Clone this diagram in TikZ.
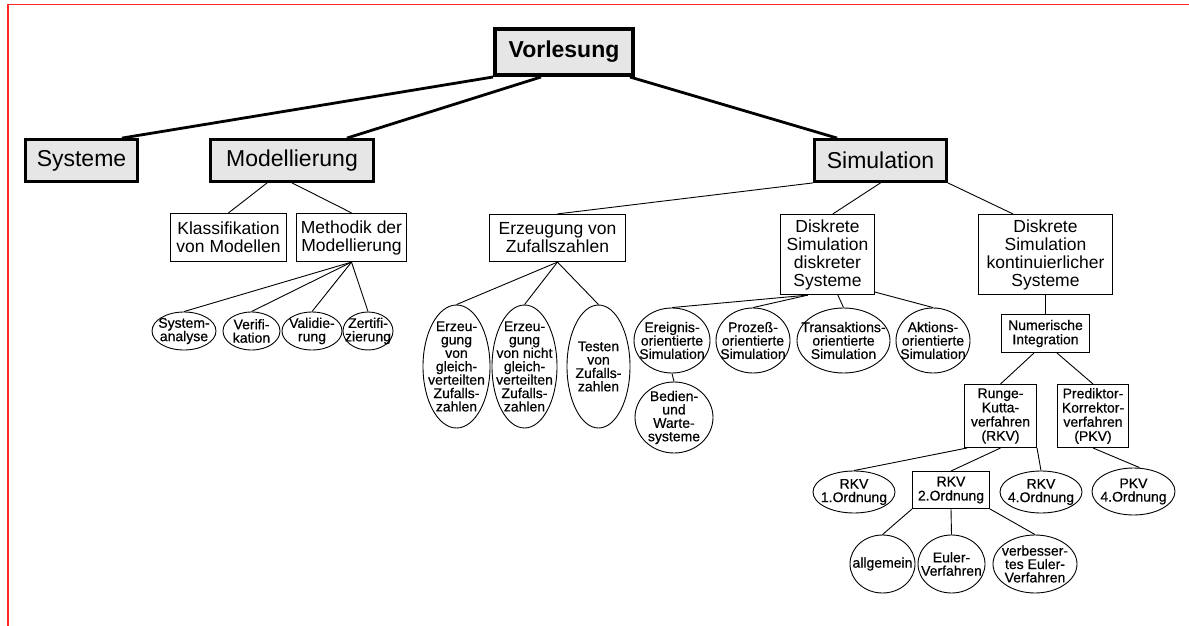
\documentclass[tikz,border=0pt]{standalone}
\usepackage{fontspec}
\setmainfont{Liberation Sans}
\newfontfamily\smallfont[FakeBold=0.5]{Liberation Sans}
\usetikzlibrary{shapes.geometric}

\definecolor{boxgray}{RGB}{230,230,230}
\definecolor{frame}{RGB}{255,40,40}

% ellipse of fixed size with its text set separately on top
\newcommand\leafnode[6]{%
  \node[leaf, minimum width=#4, minimum height=#5] (#1) at (#2,#3) {};
  \node[leaftext] (#1t) at (#1.center) {#6};}

\begin{document}
\begin{tikzpicture}[x=1pt,y=-1pt,
  rootbox/.style={draw, line width=4pt, fill=boxgray, inner sep=0pt,
    minimum width=138pt, minimum height=46pt,
    font=\fontsize{23}{25}\selectfont\bfseries},
  headbox/.style={draw, line width=2.8pt, fill=boxgray, inner sep=0pt,
    minimum height=42pt, font=\fontsize{23}{25}\selectfont},
  midbox/.style={draw, line width=1.2pt, inner sep=0pt, align=center,
    font=\fontsize{17.5}{18}\selectfont},
  smallbox/.style={draw, line width=1pt, inner sep=0pt, align=center,
    font=\smallfont\fontsize{14}{14.2}\selectfont},
  leaf/.style={draw, ellipse, line width=0.9pt, inner sep=0pt},
  leaftext/.style={inner sep=0pt, align=center,
    font=\smallfont\fontsize{14}{13.4}\selectfont},
  thick link/.style={line width=2.8pt},
  thin link/.style={line width=0.9pt}]

\useasboundingbox (0,0) rectangle (1189,626);
\fill[white] (0,0) rectangle (1189,626);

% page frame
\coordinate (frameTR) at (1189,4.5);
\coordinate (frameTL) at (8,4.5);
\coordinate (frameBL) at (8,626);
\draw[frame, line width=1.5pt] (frameTR) -- (frameTL) -- (frameBL);

% top levels
\node[rootbox] (V) at (564,52) {Vorlesung};
\node[headbox, minimum width=112pt] (S) at (81.5,160.5) {Systeme};
\node[headbox, minimum width=163pt] (M) at (292,160.5) {Modellierung};
\node[headbox, minimum width=132pt] (Sim) at (880.5,160.5) {Simulation};

\draw[thick link] (V.south west) -- ([xshift=-17pt]S.north east);
\draw[thick link] ([xshift=48pt]V.south west) -- ([xshift=-28pt]M.north east);
\draw[thick link] ([xshift=-5pt]V.south east) -- ([xshift=24pt]Sim.north west);

% Modellierung
\node[midbox, minimum width=116pt, minimum height=48pt] (K) at (228.5,237.5)
  {Klassifikation\\von Modellen};
\node[midbox, minimum width=110pt, minimum height=48pt] (Me) at (351.5,237.5)
  {Methodik der\\Modellierung};
\draw[thin link] ([xshift=58pt]M.south west) -- (K.north);
\draw[thin link] (M.south) -- (Me.north);

\leafnode{Sa}{184}{331}{64}{38}{System-\\analyse}
\leafnode{Ve}{251.5}{331}{57}{38}{Verifi-\\kation}
\leafnode{Va}{312}{331}{60}{38}{Validie-\\rung}
\leafnode{Ze}{368}{331}{50}{38}{Zertifi-\\zierung}
\foreach \c in {Sa,Ve,Va,Ze}
  \draw[thin link] (Me.south) -- (\c.north);

% Simulation
\node[midbox, minimum width=136pt, minimum height=47pt] (E) at (557.5,238)
  {Erzeugung von\\Zufallszahlen};
\node[midbox, minimum width=94pt, minimum height=80pt] (D) at (827.5,254.5)
  {Diskrete\\Simulation\\diskreter\\Systeme};
\node[midbox, minimum width=134pt, minimum height=80pt] (DK) at (1045.5,254.5)
  {Diskrete\\Simulation\\kontinuierlicher\\Systeme};
\draw[thin link] (Sim.south west) -- (E.north);
\draw[thin link] (Sim.south) -- ([xshift=53pt]D.north west);
\draw[thin link] (Sim.south east) -- ([xshift=35pt]DK.north west);

% random numbers
\leafnode{Eg}{456.5}{366.5}{67}{123}{Erzeu-\\gung\\von\\gleich-\\verteilten\\Zufalls-\\zahlen}
\leafnode{Eng}{524.5}{366.5}{65}{123}{Erzeu-\\gung\\von nicht\\gleich-\\verteilten\\Zufalls-\\zahlen}
\leafnode{Te}{598.5}{366.5}{63}{123}{Testen\\von\\Zufalls-\\zahlen}
\foreach \c in {Eg,Eng,Te}
  \draw[thin link] (E.south) -- (\c.north);

% discrete simulation
\leafnode{Er}{672}{340.5}{76}{65}{Ereignis-\\orientierte\\Simulation}
\leafnode{Pr}{753}{340.5}{74}{65}{Prozeß-\\orientierte\\Simulation}
\leafnode{Tr}{843.5}{340.5}{93}{65}{Transaktions-\\orientierte\\Simulation}
\leafnode{Ak}{933}{340.5}{74}{65}{Aktions-\\orientierte\\Simulation}
\leafnode{Bw}{674}{417.5}{78}{71}{Bedien-\\und\\Warte-\\systeme}
\draw[thin link] ([xshift=28pt]D.south west) -- (Er.north);
\draw[thin link] ([xshift=28pt]D.south west) -- (Pr.north);
\draw[thin link] ([xshift=58pt]D.south west) -- (Tr.north);
\draw[thin link] ([yshift=3pt]D.south east) -- (Ak.north);
\draw[thin link] (Er.south) -- (Bw.north);

% continuous simulation
\node[smallbox, minimum width=88pt, minimum height=38pt] (NI) at (1045.5,333.5)
  {Numerische\\Integration};
\node[smallbox, minimum width=72pt, minimum height=63pt] (RK) at (1000.5,416)
  {Runge-\\Kutta-\\verfahren\\(RKV)};
\node[smallbox, minimum width=71pt, minimum height=63pt] (PK) at (1093,416)
  {Prediktor-\\Korrektor-\\verfahren\\(PKV)};
\draw[thin link] (DK.south) -- (NI.north);
\draw[thin link] ([xshift=33pt]NI.south west) -- (RK.north);
\draw[thin link] ([xshift=56pt]NI.south west) -- (PK.north);

\leafnode{R1}{854}{492}{82}{42}{RKV\\1.Ordnung}
\node[smallbox, minimum width=77pt, minimum height=37pt] (R2) at (951,490)
  {RKV\\2.Ordnung};
\leafnode{R4}{1041}{492}{82}{42}{RKV\\4.Ordnung}
\leafnode{P4}{1133.5}{491.5}{83}{47}{PKV\\4.Ordnung}
\draw[thin link] ([xshift=3pt]RK.south west) -- (R1.north);
\draw[thin link] (RK.south) -- (R2.north);
\draw[thin link] (RK.south east) -- (R4.north);
\draw[thin link] (PK.south) -- ([xshift=6pt]P4.north);

\leafnode{Al}{882.5}{564}{65}{58}{allgemein}
\leafnode{Eu}{951.5}{564}{67}{58}{Euler-\\Verfahren}
\leafnode{Vb}{1035}{564}{84}{58}{verbesser-\\tes Euler-\\Verfahren}
\draw[thin link] (R2.south west) -- (Al.north);
\draw[thin link] (R2.south) -- (Eu.north);
\draw[thin link] (R2.south east) -- (Vb.north);

\end{tikzpicture}
\end{document}
